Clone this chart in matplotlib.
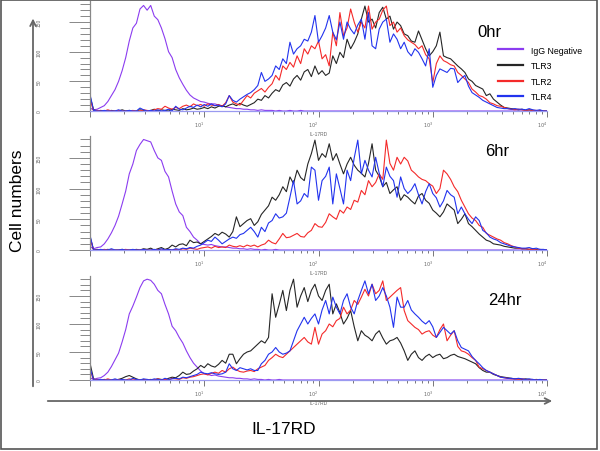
import numpy as np
import matplotlib.pyplot as plt
from matplotlib.lines import Line2D
from matplotlib.patches import FancyArrowPatch, Rectangle
from matplotlib.ticker import FixedLocator, MultipleLocator

plt.rcParams['font.family'] = ['Liberation Sans', 'DejaVu Sans']

# cell counts per channel pair, 32 per decade from 10^0 to 10^4 (129 values)
igg_0hr = [5, 2, 3, 6, 9, 16, 26, 36,
           50, 68, 90, 118, 140, 148, 172, 178,
           170, 178, 160, 154, 140, 122, 100, 90,
           70, 56, 45, 35, 27, 22, 19, 16,
           15, 13, 12, 12, 10, 9, 7, 6,
           5, 4, 4, 3, 3, 2, 2, 1,
           2, 1, 1, 1, 0, 1, 0, 0,
           1, 0, 0, 1, 0, 0, 0, 0] + [0] * 65
tlr3_0hr = [25, 2, 0, 1, 0, 0, 1, 0,
            0, 2, 0, 1, 0, 0, 2, 1,
            0, 1, 3, 0, 2, 1, 0, 3,
            2, 1, 4, 2, 3, 5, 3, 4,
            6, 4, 7, 5, 8, 9, 7, 10,
            12, 9, 13, 10, 8, 11, 14, 20,
            18, 26, 22, 30, 36, 33, 44, 48,
            42, 54, 60, 52, 66, 70, 58, 76,
            62, 68, 60, 64, 93, 80, 99, 90,
            121, 105, 116, 130, 155, 177, 150, 155,
            140, 166, 175, 155, 160, 138, 150, 144,
            130, 127, 118, 116, 135, 120, 105, 93,
            100, 110, 133, 93, 90, 88, 82, 76,
            71, 65, 54, 50, 43, 40, 37, 26,
            29, 20, 15, 10, 6, 5, 4, 3,
            2, 3, 1, 2, 1, 0, 1, 0, 0]
tlr2_0hr = [20, 0, 1, 0, 0, 2, 0, 0,
            1, 0, 0, 0, 1, 0, 0, 2,
            1, 0, 2, 4, 3, 8, 5, 3,
            6, 4, 8, 10, 7, 12, 9, 11,
            8, 12, 10, 9, 11, 8, 14, 26,
            15, 12, 10, 18, 26, 22, 30, 34,
            38, 32, 40, 46, 60, 52, 76, 70,
            82, 74, 93, 80, 105, 96, 110, 105,
            118, 88, 95, 76, 133, 110, 166, 127,
            140, 172, 150, 133, 150, 140, 177, 138,
            150, 155, 170, 177, 144, 150, 133, 140,
            127, 120, 116, 112, 105, 110, 95, 88,
            48, 80, 93, 85, 82, 78, 76, 65,
            60, 54, 48, 37, 32, 26, 24, 20,
            14, 12, 9, 8, 6, 4, 3, 2,
            3, 2, 1, 2, 1, 1, 0, 0, 0]
tlr4_0hr = [28, 1, 0, 0, 1, 0, 0, 0,
            2, 0, 0, 1, 0, 0, 5, 2,
            0, 1, 0, 2, 0, 1, 3, 0,
            8, 3, 2, 5, 8, 6, 10, 7,
            11, 8, 12, 9, 10, 7, 12, 26,
            18, 15, 20, 24, 28, 31, 36, 43,
            65, 50, 54, 60, 76, 70, 88, 80,
            116, 96, 105, 110, 121, 118, 133, 161,
            116, 127, 140, 161, 133, 120, 150, 121,
            150, 138, 130, 145, 155, 121, 166, 110,
            105, 138, 150, 155, 116, 130, 121, 105,
            116, 100, 93, 105, 99, 88, 76, 105,
            40, 60, 71, 68, 65, 72, 71, 48,
            55, 60, 42, 31, 27, 23, 18, 15,
            12, 9, 6, 5, 4, 4, 3, 4,
            3, 3, 2, 4, 2, 1, 2, 0, 0]

igg_6hr = [6, 2, 4, 5, 10, 18, 28, 40,
           55, 75, 96, 124, 140, 162, 172, 180,
           178, 176, 162, 150, 146, 128, 119, 96,
           75, 62, 56, 37, 30, 21, 16, 10,
           9, 8, 9, 7, 6, 5, 5, 4,
           3, 3, 2, 2, 1, 2, 1, 1,
           0, 1, 0, 0, 1, 0, 0, 0,
           0, 0, 0, 0, 0, 0, 0, 0] + [0] * 65
tlr3_6hr = [22, 0, 1, 0, 0, 1, 0, 0,
            0, 1, 0, 0, 0, 1, 0, 2,
            1, 3, 0, 2, 4, 1, 3, 8,
            5, 9, 10, 7, 16, 12, 13, 10,
            14, 18, 22, 27, 24, 29, 26, 21,
            30, 54, 38, 43, 48, 51, 40, 46,
            58, 65, 72, 86, 81, 90, 103, 95,
            119, 108, 130, 118, 113, 140, 157, 179,
            146, 157, 151, 173, 146, 157, 140, 124,
            140, 151, 138, 130, 125, 119, 141, 173,
            130, 120, 103, 110, 92, 98, 103, 81,
            90, 86, 80, 75, 88, 92, 81, 76,
            65, 60, 54, 62, 75, 70, 65, 43,
            50, 59, 43, 38, 32, 26, 21, 16,
            14, 10, 9, 8, 6, 5, 4, 3,
            3, 2, 2, 1, 2, 1, 0, 0, 0]
tlr2_6hr = [20, 0, 0, 0, 1, 0, 0, 0,
            0, 0, 1, 0, 0, 0, 0, 1,
            0, 0, 0, 1, 0, 0, 1, 0,
            1, 0, 2, 1, 3, 2, 1, 3,
            4, 5, 3, 6, 4, 5, 4, 8,
            6, 5, 7, 5, 8, 6, 8, 5,
            8, 10, 16, 12, 10, 18, 27, 20,
            21, 24, 27, 22, 21, 28, 32, 43,
            38, 37, 45, 59, 54, 50, 65, 60,
            70, 66, 81, 78, 97, 90, 113, 103,
            110, 124, 115, 179, 141, 130, 151, 140,
            151, 145, 130, 125, 119, 115, 113, 108,
            104, 92, 100, 130, 124, 115, 103, 95,
            81, 70, 59, 52, 48, 40, 37, 27,
            24, 21, 18, 16, 12, 10, 7, 5,
            3, 2, 2, 1, 1, 0, 1, 0, 0]
tlr4_6hr = [24, 0, 0, 1, 0, 0, 2, 0,
            0, 1, 0, 0, 1, 0, 0, 1,
            0, 0, 1, 0, 2, 0, 1, 0,
            2, 1, 3, 2, 4, 3, 6, 8,
            12, 16, 14, 21, 16, 10, 14, 18,
            21, 19, 25, 27, 32, 37, 30, 21,
            37, 30, 44, 48, 59, 52, 54, 60,
            86, 113, 75, 80, 92, 86, 135, 130,
            81, 113, 120, 135, 75, 124, 100, 75,
            130, 113, 150, 179, 124, 146, 130, 119,
            151, 125, 103, 135, 120, 113, 86, 119,
            100, 92, 98, 108, 90, 75, 95, 108,
            92, 85, 70, 80, 97, 90, 86, 59,
            70, 59, 50, 43, 54, 48, 32, 28,
            21, 18, 16, 12, 10, 8, 6, 5,
            4, 3, 3, 4, 2, 3, 1, 1, 0]

igg_24hr = [4, 1, 3, 4, 8, 14, 24, 36,
            48, 68, 90, 118, 132, 148, 165, 177,
            180, 178, 171, 160, 154, 135, 118, 96,
            88, 76, 66, 52, 40, 30, 23, 16,
            11, 10, 8, 9, 7, 6, 5, 4,
            4, 3, 3, 2, 2, 1, 2, 1,
            1, 0, 1, 0, 0, 1, 0, 0,
            0, 0, 0, 0, 0, 0, 0, 0] + [0] * 65
tlr3_24hr = [30, 2, 0, 0, 1, 0, 0, 0,
             1, 3, 6, 8, 5, 2, 0, 1,
             0, 1, 0, 2, 1, 0, 3, 5,
             4, 8, 14, 10, 11, 16, 20, 26,
             22, 29, 25, 23, 28, 35, 30, 46,
             46, 29, 38, 46, 50, 52, 58, 64,
             70, 66, 76, 154, 112, 135, 160, 124,
             160, 180, 130, 150, 165, 140, 160, 171,
             150, 142, 160, 171, 118, 136, 120, 100,
             110, 124, 95, 70, 88, 80, 76, 70,
             82, 88, 75, 64, 70, 72, 76, 66,
             52, 35, 46, 52, 40, 35, 42, 46,
             40, 44, 46, 38, 40, 44, 46, 42,
             40, 38, 35, 32, 29, 22, 17, 14,
             14, 10, 8, 6, 5, 4, 3, 2,
             2, 1, 2, 1, 0, 1, 0, 0, 0]
tlr2_24hr = [18, 0, 1, 0, 0, 2, 0, 0,
             1, 0, 0, 2, 0, 1, 0, 0,
             1, 0, 0, 2, 0, 1, 0, 3,
             2, 1, 4, 3, 5, 6, 8, 10,
             11, 9, 12, 14, 12, 17, 14, 20,
             23, 18, 15, 14, 16, 17, 15, 20,
             23, 26, 35, 40, 46, 42, 40, 46,
             52, 58, 64, 70, 76, 68, 64, 94,
             64, 82, 88, 100, 95, 106, 110, 130,
             118, 125, 142, 135, 148, 162, 150, 171,
             154, 160, 177, 142, 148, 154, 160, 165,
             124, 106, 100, 94, 90, 82, 86, 88,
             80, 76, 90, 100, 70, 80, 88, 60,
             52, 50, 46, 40, 35, 23, 20, 17,
             14, 11, 8, 5, 4, 3, 2, 2,
             1, 2, 1, 0, 1, 0, 0, 0, 0]
tlr4_24hr = [22, 0, 0, 1, 0, 0, 0, 2,
             0, 1, 0, 0, 3, 1, 0, 2,
             1, 0, 2, 1, 0, 3, 1, 2,
             3, 2, 5, 4, 6, 8, 10, 14,
             12, 11, 13, 11, 10, 11, 14, 29,
             20, 17, 22, 20, 18, 20, 17, 17,
             29, 35, 46, 50, 58, 50, 46, 48,
             52, 70, 88, 100, 112, 100, 110, 118,
             100, 125, 142, 118, 148, 130, 118, 142,
             154, 130, 118, 142, 160, 177, 154, 171,
             142, 150, 165, 150, 130, 94, 148, 130,
             130, 142, 125, 118, 112, 105, 100, 106,
             95, 76, 85, 94, 88, 82, 88, 70,
             58, 55, 52, 42, 35, 29, 22, 17,
             14, 11, 8, 5, 4, 3, 3, 2,
             3, 2, 1, 2, 1, 0, 1, 0, 0]

time_labels = ['0hr', '6hr', '24hr']
series_labels = ['IgG Negative', 'TLR3', 'TLR2', 'TLR4']
series_colors = ['#8b3cf0', '#262626', '#f42a2a', '#2233ee']
y_ticks = [0, 50, 100, 150]
x_ticks = [1, 10, 100, 1000, 10000]
x_tick_labels = ['', r'$10^{1}$', r'$10^{2}$', r'$10^{3}$', r'$10^{4}$']

panels = [
    ([igg_0hr, tlr3_0hr, tlr2_0hr, tlr4_0hr], [0.15, 0.7522, 0.7617, 0.2427], (0.795, 0.927)),
    ([igg_6hr, tlr3_6hr, tlr2_6hr, tlr4_6hr], [0.15, 0.4447, 0.7617, 0.2513], (0.808, 0.664)),
    ([igg_24hr, tlr3_24hr, tlr2_24hr, tlr4_24hr], [0.15, 0.1571, 0.7617, 0.2292], (0.813, 0.336)),
]


def draw_panel(ax, curves):
    for counts, color in zip(curves, series_colors):
        x = 10 ** (np.arange(len(counts)) / 32)
        ax.plot(x, counts, color=color, lw=0.8)
    ax.set_xscale('log')
    ax.set_xlim(1, 10 ** 4)
    ax.set_ylim(0, 185)
    for side in ['top', 'right']:
        ax.spines[side].set_visible(False)
    ax.spines['left'].set_color('#888888')
    ax.spines['bottom'].set_color('#9a9af0')
    ax.spines['left'].set_linewidth(0.9)
    ax.spines['bottom'].set_linewidth(0.9)

    ax.set_yticks(y_ticks)
    ax.yaxis.set_minor_locator(MultipleLocator(10))
    ax.tick_params(axis='y', which='major', length=15, width=0.7, color='#888888',
                   labelsize=3.5, labelcolor='#666666', pad=20, labelrotation=90)
    ax.tick_params(axis='y', which='minor', length=7, width=0.7, color='#888888')
    for lab in ax.get_yticklabels():
        lab.set_va('center')

    ax.xaxis.set_major_locator(FixedLocator(x_ticks))
    ax.set_xticklabels(x_tick_labels)
    minor = [m * 10 ** d for d in range(4) for m in range(2, 10)]
    ax.xaxis.set_minor_locator(FixedLocator(minor))
    ax.tick_params(axis='x', which='major', length=4, width=0.7, color='#777777',
                   labelsize=3.5, labelcolor='#666666', pad=2)
    ax.tick_params(axis='x', which='minor', length=2.5, width=0.7, color='#777777')
    for lab in ax.get_xticklabels():
        lab.set_ha('right')
    ax.set_xlabel('IL-17RD', fontsize=3.5, color='#666666', labelpad=2)


fig = plt.figure(figsize=(6, 4.52), dpi=100)

for (curves, rect, title_pos), label in zip(panels, time_labels):
    ax = fig.add_axes(rect)
    draw_panel(ax, curves)
    fig.text(title_pos[0], title_pos[1], label, fontsize=12, va='center', ha='left')

handles = [Line2D([], [], color=c, lw=1.6) for c in series_colors]
fig.legend(handles, series_labels, loc='upper left', bbox_to_anchor=(0.83, 0.897),
           frameon=False, fontsize=6.3, handlelength=2.8, handletextpad=1.0,
           labelspacing=0.75, borderpad=0, borderaxespad=0)

# big axis arrows and titles
fig.add_artist(FancyArrowPatch((0.055, 0.137), (0.055, 0.963), transform=fig.transFigure,
                               arrowstyle='->', mutation_scale=10, color='#666666', lw=1.3))
fig.add_artist(FancyArrowPatch((0.075, 0.1106), (0.925, 0.1106), transform=fig.transFigure,
                               arrowstyle='->', mutation_scale=10, color='#666666', lw=1.3))
fig.text(0.03, 0.555, 'Cell numbers', rotation=90, fontsize=12.5, ha='center', va='center')
fig.text(0.472, 0.0487, 'IL-17RD', fontsize=12.5, ha='center', va='center')

fig.add_artist(Rectangle((0.002, 0.0044), 0.993, 0.9936, transform=fig.transFigure,
                         fill=False, ec='#555555', lw=1.2))

fig.savefig('out.png', dpi=100)
